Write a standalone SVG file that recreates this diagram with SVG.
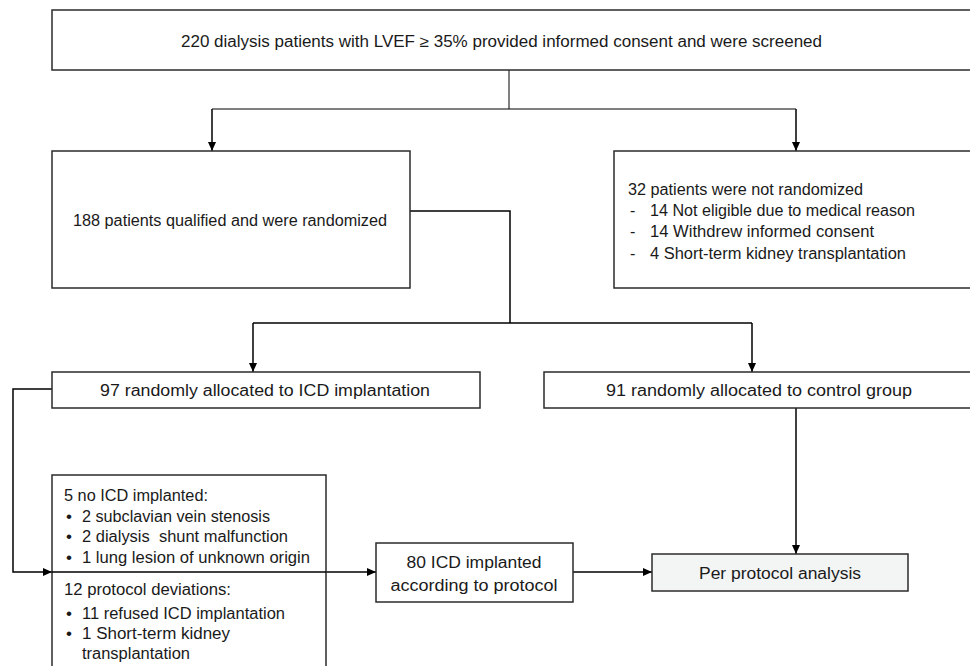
<svg xmlns="http://www.w3.org/2000/svg" width="970" height="666" viewBox="0 0 970 666">
<defs>
<marker id="arr" markerWidth="9" markerHeight="8" refX="9" refY="4" orient="auto" markerUnits="userSpaceOnUse">
<path d="M0,0 L9,4 L0,8 Z" fill="#000"/>
</marker>
<style>
.box{fill:#fff;stroke:#2b2b2b;stroke-width:1.5}
.gray{fill:#f3f4f4}
.t{font-family:"Liberation Sans",Arial,sans-serif;font-size:16px;fill:#1a1a1a}
.c{text-anchor:middle}
.b{font-size:17px}
.ln{fill:none;stroke:#000;stroke-width:1.5}
.thin{fill:none;stroke:#000;stroke-width:1}
</style>
</defs>
<rect x="0" y="0" width="970" height="666" fill="#fff"/>
<g id="connectors">
<path class="thin" d="M509,70 V109"/>
<path class="thin" d="M212,109 H796"/>
<path class="ln" d="M212,109 V151" marker-end="url(#arr)"/>
<path class="ln" d="M796,109 V151" marker-end="url(#arr)"/>
<path class="ln" d="M410,211 H510 V323"/>
<path class="ln" d="M253,323 H752"/>
<path class="ln" d="M253,323 V372" marker-end="url(#arr)"/>
<path class="ln" d="M752,323 V372" marker-end="url(#arr)"/>
<path class="ln" d="M52,389 H13 V572 H52" marker-end="url(#arr)"/>
<path class="ln" d="M52,572 H376" marker-end="url(#arr)"/>
<path class="ln" d="M573,572 H652" marker-end="url(#arr)"/>
<path class="ln" d="M796,408 V554" marker-end="url(#arr)"/>
</g>
<g id="screened">
<rect class="box" x="52" y="10" width="930" height="60"/>
<text class="t" x="181" y="47" textLength="641" lengthAdjust="spacingAndGlyphs">220 dialysis patients with LVEF ≥ 35% provided informed consent and were screened</text>
</g>
<g id="randomized">
<rect class="box" x="52" y="151" width="358" height="137"/>
<text class="t" x="73" y="226" textLength="314" lengthAdjust="spacingAndGlyphs">188 patients qualified and were randomized</text>
</g>
<g id="notrandomized">
<rect class="box" x="614" y="151" width="370" height="137"/>
<text class="t" x="628" y="195" textLength="235" lengthAdjust="spacingAndGlyphs">32 patients were not randomized</text>
<text class="t" x="630" y="216">-</text>
<text class="t" x="650" y="216" textLength="265" lengthAdjust="spacingAndGlyphs">14 Not eligible due to medical reason</text>
<text class="t" x="630" y="237">-</text>
<text class="t" x="650" y="237" textLength="224" lengthAdjust="spacingAndGlyphs">14 Withdrew informed consent</text>
<text class="t" x="630" y="259">-</text>
<text class="t" x="650" y="259" textLength="256" lengthAdjust="spacingAndGlyphs">4 Short-term kidney transplantation</text>
</g>
<g id="icdgroup">
<rect class="box" x="52" y="372" width="428" height="36"/>
<text class="t" x="100" y="396" textLength="330" lengthAdjust="spacingAndGlyphs">97 randomly allocated to ICD implantation</text>
</g>
<g id="controlgroup">
<rect class="box" x="544" y="372" width="440" height="36"/>
<text class="t" x="606" y="396" textLength="306" lengthAdjust="spacingAndGlyphs">91 randomly allocated to control group</text>
</g>
<g id="excluded">
<path class="box" d="M52,680 V475 H326 V680"/>
<path class="ln" d="M52,572 H326"/>
<text class="t" x="64" y="501" textLength="144" lengthAdjust="spacingAndGlyphs">5 no ICD implanted:</text>
<text class="t b" x="66" y="522">•</text>
<text class="t" x="82" y="522" textLength="188" lengthAdjust="spacingAndGlyphs">2 subclavian vein stenosis</text>
<text class="t b" x="66" y="542">•</text>
<text class="t" x="82" y="542" textLength="206" lengthAdjust="spacingAndGlyphs" xml:space="preserve">2 dialysis  shunt malfunction</text>
<text class="t b" x="66" y="563">•</text>
<text class="t" x="82" y="563" textLength="228" lengthAdjust="spacingAndGlyphs">1 lung lesion of unknown origin</text>
<text class="t" x="64" y="595" textLength="167" lengthAdjust="spacingAndGlyphs">12 protocol deviations:</text>
<text class="t b" x="66" y="619">•</text>
<text class="t" x="82" y="619" textLength="203" lengthAdjust="spacingAndGlyphs">11 refused ICD implantation</text>
<text class="t b" x="66" y="639">•</text>
<text class="t" x="82" y="639" textLength="148" lengthAdjust="spacingAndGlyphs">1 Short-term kidney</text>
<text class="t" x="82" y="659" textLength="108" lengthAdjust="spacingAndGlyphs">transplantation</text>
</g>
<g id="implanted">
<rect class="box" x="376" y="543" width="197" height="59"/>
<text class="t c" x="474" y="568" textLength="135" lengthAdjust="spacingAndGlyphs">80 ICD implanted</text>
<text class="t c" x="474" y="591" textLength="167" lengthAdjust="spacingAndGlyphs">according to protocol</text>
</g>
<g id="perprotocol">
<rect class="box gray" x="652" y="554" width="256" height="37"/>
<text class="t c" x="780" y="579" textLength="162" lengthAdjust="spacingAndGlyphs">Per protocol analysis</text>
</g>
</svg>
